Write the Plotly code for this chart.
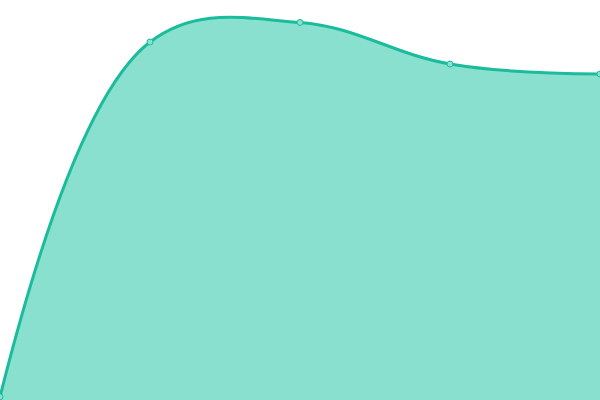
import plotly.graph_objects as go

# chart values
categories = [0, 1, 2, 3, 4]
values = [0.8, 89.5, 94.4, 84.0, 81.5]

LINE = "#1abc9c"
FILL = "#8ae0cf"

fig = go.Figure()
fig.add_trace(
    go.Scatter(
        x=categories,
        y=values,
        mode="lines+markers",
        line=dict(color=LINE, width=3, shape="spline", smoothing=1.1),
        marker=dict(size=6, color=FILL, line=dict(color=LINE, width=1)),
        fill="tozeroy",
        fillcolor=FILL,
        cliponaxis=False,
        hoverinfo="x+y",
    )
)

fig.update_layout(
    width=600,
    height=400,
    margin=dict(l=0, r=0, t=0, b=0),
    paper_bgcolor="white",
    plot_bgcolor="white",
    showlegend=False,
    xaxis=dict(range=[0, 4], visible=False, fixedrange=True),
    yaxis=dict(range=[0, 100], visible=False, fixedrange=True),
)

# the page body has a default 8px margin; drop it so the chart fills the window
fig.write_html(
    "out.html",
    config={"displayModeBar": False},
    post_script="document.body.style.margin='0';",
)
